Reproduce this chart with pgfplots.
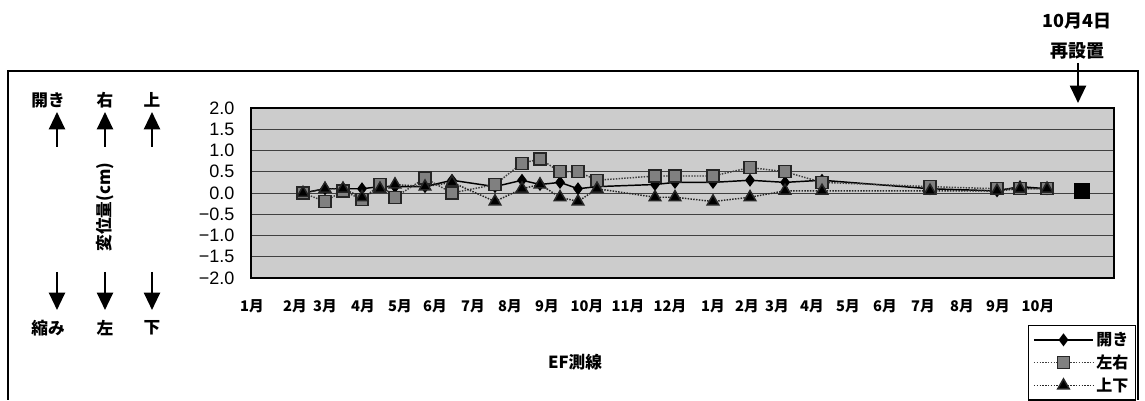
\documentclass[border=0pt]{standalone}
\usepackage{fontspec}
\setmainfont{Noto Sans CJK JP}
\newfontfamily\arialf{Liberation Sans}
\usepackage{pgfplots}
\usepackage{pgfplotstable}
\pgfplotsset{compat=1.18}
\usetikzlibrary{arrows.meta}

\pgfplotstableread{
x      open  lr    ud
303    0.00  0.00  0.00
325    0.10 -0.20  0.10
343    0.10  0.05  0.10
362    0.10 -0.15 -0.10
380    0.15  0.20  0.10
395    0.15 -0.10  0.20
425    0.15  0.35  0.15
452    0.30  0.00  0.25
495    0.15  0.20 -0.20
522    0.30  0.70  0.10
540    0.20  0.80  0.20
560    0.25  0.50 -0.10
578    0.10  0.50 -0.20
597    0.15  0.30  0.10
655    0.20  0.40 -0.10
675    0.25  0.40 -0.10
713    0.25  0.40 -0.20
750    0.30  0.60 -0.10
785    0.25  0.50  0.05
822    0.30  0.25  0.05
930    0.10  0.15  0.05
997    0.05  0.10  0.05
1020   0.15  0.10  0.10
1047   0.10  0.10  0.10
}\data

\begin{document}
\begin{tikzpicture}
\begin{scope}[x=0.75pt,y=-0.75pt]
\useasboundingbox (0,0) rectangle (1145,396);
\draw[line width=0.8pt] (8,400) -- (8,71) -- (1138,71) -- (1138,400);
% left annotations
\begin{scope}[every node/.style={font=\bfseries\fontsize{12.5}{14}\selectfont}]
\node at (48,100) {開き};
\node at (105,100) {右};
\node at (152,100) {上};
\node at (48,328) {縮み};
\node at (105,328) {左};
\node at (152,328) {下};
\node[rotate=90] at (105,207) {変位量(cm)};
\node at (575,362) {EF測線};
\end{scope}
\foreach \xx in {57,105,152}{
  \draw[line width=1.6pt,-{Triangle[length=13pt,width=12pt]}] (\xx,147) -- (\xx,112);
  \draw[line width=1.6pt,-{Triangle[length=13pt,width=12pt]}] (\xx,272) -- (\xx,310);
}
% top right annotation
\node[font=\bfseries\fontsize{13.5}{15}\selectfont] at (1077,21) {10月4日};
\node[font=\bfseries\fontsize{13.5}{15}\selectfont] at (1077,51) {再設置};
\draw[line width=1.6pt,-{Triangle[length=13pt,width=12pt]}] (1078,63) -- (1078,103);
\end{scope}

\begin{axis}[
  at={(188.25pt,-208.5pt)}, anchor=south west,
  scale only axis, width=647.25pt, height=127.5pt,
  xmin=251, xmax=1114, ymin=-2, ymax=2,
  axis background/.style={fill=black!20},
  axis line style={line width=0.9pt},
  ymajorgrids, major grid style={black!75, line width=0.6pt},
  tick style={draw=none},
  ytick={-2,-1.5,-1,-0.5,0,0.5,1,1.5,2},
  yticklabels={{−2.0},{−1.5},{−1.0},{−0.5},{0.0},{0.5},{1.0},{1.5},{2.0}},
  yticklabel style={font=\arialf\fontsize{13.5}{14}\selectfont, xshift=-9pt},
  xtick={252,295,325,363,400,435,473,510,547,587,628,670,713,747,777,812,848,885,923,962,998,1038},
  xticklabels={1月,2月,3月,4月,5月,6月,7月,8月,9月,10月,11月,12月,1月,2月,3月,4月,5月,6月,7月,8月,9月,10月},
  xticklabel style={font=\bfseries\fontsize{11}{12}\selectfont, yshift=-13pt},
  clip=false,
  legend style={at={(0.9003,-0.2765)}, anchor=north west, draw=black, line width=0.8pt,
    font=\bfseries\fontsize{12}{14}\selectfont, row sep=1.5pt, inner xsep=3.5pt, inner ysep=3pt},
  legend cell align=left,
  legend image code/.code={\draw[mark repeat=2,mark phase=2] plot coordinates {(0cm,0cm) (0.78cm,0cm) (1.56cm,0cm)};},
]
\addplot[black, line width=1.1pt, mark=diamond*, mark size=4pt, mark options={solid, fill=black}] table[x=x,y=open] {\data};
\addlegendentry{開き}
\addplot[black!75, line width=1.1pt, densely dotted, mark=square*, mark size=4.5pt, mark options={solid, fill=black!50, draw=black!85}] table[x=x,y=lr] {\data};
\addlegendentry{左右}
\addplot[black!85, line width=1.1pt, densely dotted, mark=triangle*, mark size=5pt, mark options={solid, fill=black}] table[x=x,y=ud] {\data};
\addlegendentry{上下}
\addplot[only marks, mark=square*, mark size=5.5pt, fill=black, forget plot] coordinates {(1082,0.05)};
\end{axis}
\end{tikzpicture}
\end{document}
